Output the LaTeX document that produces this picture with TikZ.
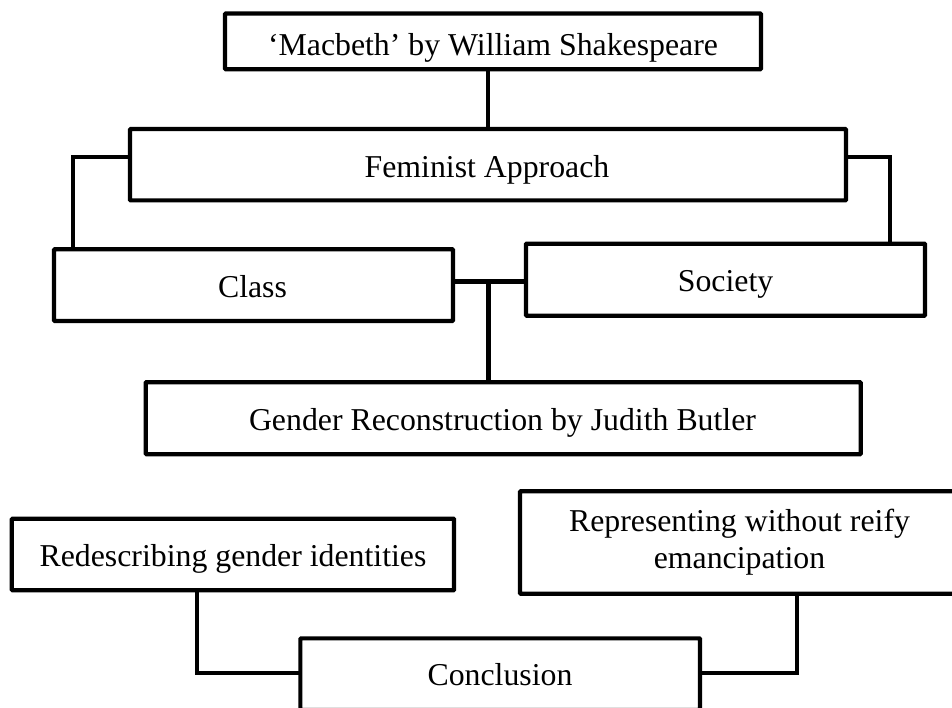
\documentclass[tikz,border=0pt]{standalone}
\usepackage{fontspec}
\setmainfont{Liberation Serif}
\begin{document}
\begin{tikzpicture}[x=1pt,y=-1pt,
  box/.style={draw=black,line width=4.2pt,inner sep=0pt,outer sep=0pt,rounded corners=0.8pt},
  lbl/.style={anchor=base,inner sep=0pt,font=\fontsize{31.8}{36.5}\selectfont},
  conn/.style={draw=black,line width=4.2pt,line join=miter}]
\useasboundingbox (0,0) rectangle (952,707);
% boxes
\node[box,minimum width=536pt,minimum height=55.8pt] (mac) at (493,41.4) {};
\node[box,minimum width=716pt,minimum height=71.3pt] (fem) at (488,164.7) {};
\node[box,minimum width=399pt,minimum height=71.6pt] (cls) at (253.5,285.1) {};
\node[box,minimum width=399pt,minimum height=72.1pt] (soc) at (725.5,279.7) {};
\node[box,minimum width=715pt,minimum height=72.1pt] (gen) at (503.2,418.2) {};
\node[box,minimum width=442.3pt,minimum height=71.6pt] (red) at (232.9,554.5) {};
\node[box,minimum width=439pt,minimum height=102.4pt] (rep) at (739.5,542.5) {};
\node[box,minimum width=399.7pt,minimum height=71.7pt] (con) at (500.2,674.2) {};
% texts
\node[lbl] (tmac) at (493,55) {‘Macbeth’ by William Shakespeare};
\node[lbl] (tfem) at (487,177.7) {Feminist Approach};
\node[lbl] (tcls) at (252.5,297) {Class};
\node[lbl] (tsoc) at (725.6,291.7) {Society};
\node[lbl] (tgen) at (502.5,430.7) {Gender Reconstruction by Judith Butler};
\node[lbl] (tred) at (233,566.7) {Redescribing gender identities};
\node[lbl] (trep1) at (739.5,531.7) {Representing without reify};
\node[lbl] (trep2) at (739.5,568) {emancipation};
\node[lbl] (tcon) at (500,685) {Conclusion};
% connector corner points
\coordinate (fl) at (73,157);
\coordinate (fr) at (890,157);
\coordinate (cj) at (488.5,281.5);
\coordinate (rj) at (197,673);
\coordinate (pj) at (797,673);
% connectors
\draw[conn] (fem.north) -- (fem.north |- mac.south);
\draw[conn] (fem.west |- fl) -- (fl) -- (fl |- cls.north);
\draw[conn] (fem.east |- fr) -- (fr) -- (fr |- soc.north);
\draw[conn] (cls.east |- cj) -- (soc.west |- cj);
\draw[conn] (cj) -- (cj |- gen.north);
\draw[conn] (red.south -| rj) -- (rj) -- (con.west |- rj);
\draw[conn] (rep.south -| pj) -- (pj) -- (con.east |- pj);
\end{tikzpicture}
\end{document}
